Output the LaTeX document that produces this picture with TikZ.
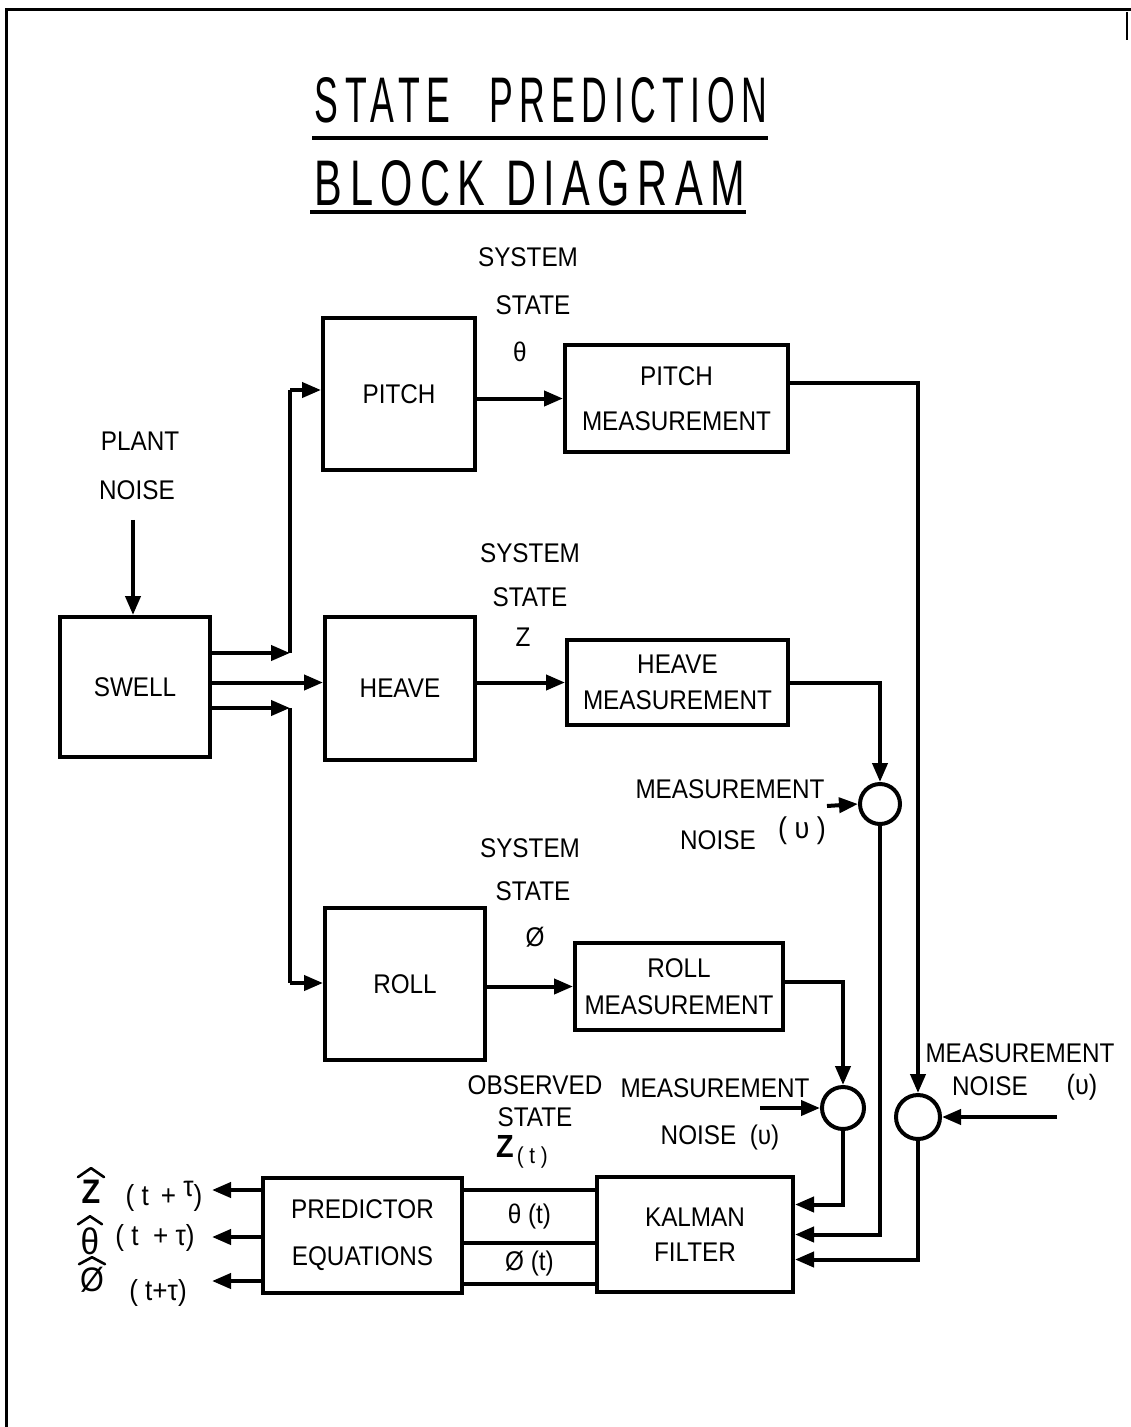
\documentclass[tikz,border=0pt]{standalone}
\usepackage{graphicx}
\usepackage{fontspec}
\setmainfont[FakeStretch=0.9]{Liberation Sans}
\newfontfamily\titlefont[LetterSpace=18]{Liberation Sans}
\usetikzlibrary{arrows.meta}
\begin{document}
\begin{tikzpicture}[x=1pt,y=-1pt,
  blk/.style={draw, line width=4pt, inner sep=0pt, align=center, font=\fontsize{27pt}{30pt}\selectfont},
  sumc/.style={draw, circle, line width=4pt, inner sep=0pt, minimum size=40pt},
  txt/.style={inner sep=0pt, font=\fontsize{27pt}{30pt}\selectfont},
  sub/.style={inner sep=0pt, font=\fontsize{29pt}{29pt}\selectfont},
  hat/.style={line width=2.6pt, line join=round, line cap=round},
  conn/.style={line width=4pt},
  arr/.style={line width=4pt, -{Triangle[length=19pt,width=15pt]}},
  uline/.style={line width=4pt}]
\useasboundingbox (0,0) rectangle (1131,1427);
% page border (scanned)
\draw[line width=3pt] (6,1427) -- (6,9) -- (1131,9);
\draw[line width=2pt] (1127,12) -- (1127,40);

% title
\node[inner sep=0pt] (t1) at (541,100) {\resizebox{452pt}{45pt}{\titlefont STATE\hspace{1.1em}PREDICTION}};
\draw[uline] (312,138) -- (768,138);
\node[inner sep=0pt] (t2) at (530,183) {\resizebox{430pt}{45pt}{\titlefont BLOCK\hspace{0.5em}DIAGRAM}};
\draw[uline] (310,212) -- (746,212);

% blocks
\node[blk, minimum width=150pt, minimum height=140pt] (swell) at (135,687) {SWELL};
\node[blk, minimum width=152pt, minimum height=152pt] (pitch) at (399,394) {PITCH};
\node[blk, minimum width=150pt, minimum height=143pt] (heave) at (400,688.5) {HEAVE};
\node[blk, minimum width=160pt, minimum height=152pt] (roll) at (405,984) {ROLL};
\node[blk, minimum width=223pt, minimum height=107pt, font=\fontsize{27pt}{45pt}\selectfont] (pm) at (676.5,398.5) {PITCH\\MEASUREMENT};
\node[blk, minimum width=221pt, minimum height=85pt, font=\fontsize{27pt}{36pt}\selectfont] (hm) at (677.5,682.5) {HEAVE\\MEASUREMENT};
\node[blk, minimum width=208pt, minimum height=87pt, font=\fontsize{27pt}{37pt}\selectfont] (rm) at (679,986.5) {ROLL\\MEASUREMENT};
\node[blk, minimum width=199pt, minimum height=115pt, font=\fontsize{27pt}{47pt}\selectfont] (pred) at (362.5,1235.5) {PREDICTOR\\EQUATIONS};
\node[blk, minimum width=135pt, minimum height=53pt] (thc) at (529.5,1216.5) {θ (t)};
\node[blk, minimum width=135pt, minimum height=41pt] (phc) at (529.5,1263.5) {Ø (t)};
\node[blk, minimum width=196pt, minimum height=115pt, font=\fontsize{27pt}{35pt}\selectfont] (kal) at (695,1234.5) {KALMAN\\FILTER};

% summing junctions
\node[sumc] (c1) at (880,804) {};
\node[sumc, minimum size=42pt] (c2) at (843,1108) {};
\node[sumc, minimum size=44pt] (c3) at (918,1117) {};

% labels
\node[txt] (pn1) at (140,441) {PLANT};
\node[txt] (pn2) at (137,490) {NOISE};
\node[txt] (s1a) at (528,257) {SYSTEM};
\node[txt] (s1b) at (533,305) {STATE};
\node[txt] (s1c) at (520,352) {θ};
\node[txt] (s2a) at (530,553) {SYSTEM};
\node[txt] (s2b) at (530,597) {STATE};
\node[txt] (s2c) at (523,637) {Z};
\node[txt] (s3a) at (530,848) {SYSTEM};
\node[txt] (s3b) at (533,891) {STATE};
\node[txt] (s3c) at (535,937) {Ø};
\node[txt] (m1a) at (730,789) {MEASUREMENT};
\node[txt] (m1b) at (718,840) {NOISE};
\node[txt, font=\fontsize{30pt}{30pt}\selectfont] (m1c) at (802,831) {( υ )};
\node[txt] (m2a) at (715,1088) {MEASUREMENT};
\node[txt] (m2b) at (720,1137) {NOISE\hspace{0.5em}(υ)};
\node[txt] (m3a) at (1020,1053) {MEASUREMENT};
\node[txt] (m3b) at (990,1086) {NOISE};
\node[txt, font=\fontsize{28pt}{28pt}\selectfont] (m3c) at (1082,1087) {(υ)};
\node[txt] (ob1) at (535,1085) {OBSERVED};
\node[txt] (ob2) at (535,1117) {STATE};
\node[inner sep=0pt, font=\fontsize{32pt}{32pt}\selectfont] (ob3) at (522,1152) {\textbf{Z}\hspace{3pt}\raisebox{-6pt}{\fontsize{23pt}{23pt}\selectfont( t )}};

% predicted outputs
\node[inner sep=0pt, font=\fontsize{34pt}{34pt}\selectfont\bfseries] (o1) at (91,1192) {Z};
\node[sub] (o1s) at (164,1196) {( t \,+ \raisebox{9pt}{τ})};
\node[inner sep=0pt, font=\fontsize{37pt}{37pt}\selectfont] (o2) at (90,1241) {θ};
\node[sub] (o2s) at (155,1238) {( t \ + τ)};
\node[inner sep=0pt, font=\fontsize{34pt}{34pt}\selectfont] (o3) at (92,1280) {Ø};
\node[sub] (o3s) at (158,1293) {( t+τ)};
\draw[hat] ([xshift=-13pt,yshift=3pt]o1.north) -- ([yshift=12pt]o1.north) -- ([xshift=13pt,yshift=3pt]o1.north);
\draw[hat] ([xshift=-12pt,yshift=3pt]o2.north) -- ([yshift=11pt]o2.north) -- ([xshift=12pt,yshift=3pt]o2.north);
\draw[hat] ([xshift=-13pt,yshift=3pt]o3.north) -- ([yshift=10pt]o3.north) -- ([xshift=13pt,yshift=3pt]o3.north);

% free ends
\coordinate (jTop) at (290,390);
\coordinate (j1) at (290,653);
\coordinate (j3) at (290,708);
\coordinate (jBot) at (290,983);
\coordinate (n1) at (827,806);
\coordinate (n2) at (760,1108);
\coordinate (n3) at (1057,1117);
\coordinate (e1) at (212,1190);
\coordinate (e2) at (212,1237);
\coordinate (e3) at (212,1281);

% connectors
\draw[arr] (pn2.south -| 133,0) ++(0,20) -- (swell.north -| 133,0);
\draw[arr] (swell.east |- j1) -- (j1);
\draw[arr] (swell.east |- hm.west) -- (heave.west |- hm.west);
\draw[arr] (swell.east |- j3) -- (j3);
\draw[conn] (j1) -- (jTop);
\draw[conn] (j3) -- (jBot);
\draw[arr] (jTop) -- (pitch.west |- jTop);
\draw[arr] (jBot) -- (roll.west |- jBot);

\draw[arr] (pitch.east |- pm.west) -- (pm.west);
\draw[arr] (heave.east |- hm.west) -- (hm.west);
\draw[arr] (roll.east |- rm.west) -- (rm.west);

\draw[arr] ([yshift=16pt]pm.east) -| (c3.north);
\draw[arr] (hm.east) -| (c1.north);
\draw[arr] ([yshift=5pt]rm.east) -| (c2.north);

\draw[arr] (n1) -- (c1.west);
\draw[arr] (n2) -- (c2.west);
\draw[arr] (n3) -- (c3.east);

\draw[arr] (c2.south) |- ([yshift=30pt]kal.east);
\draw[arr] (c1.south) |- (kal.east);
\draw[arr] (c3.south) |- ([yshift=-25pt]kal.east);

\draw[arr] (pred.west |- e1) -- (e1);
\draw[arr] (pred.west |- e2) -- (e2);
\draw[arr] (pred.west |- e3) -- (e3);
\end{tikzpicture}
\end{document}
